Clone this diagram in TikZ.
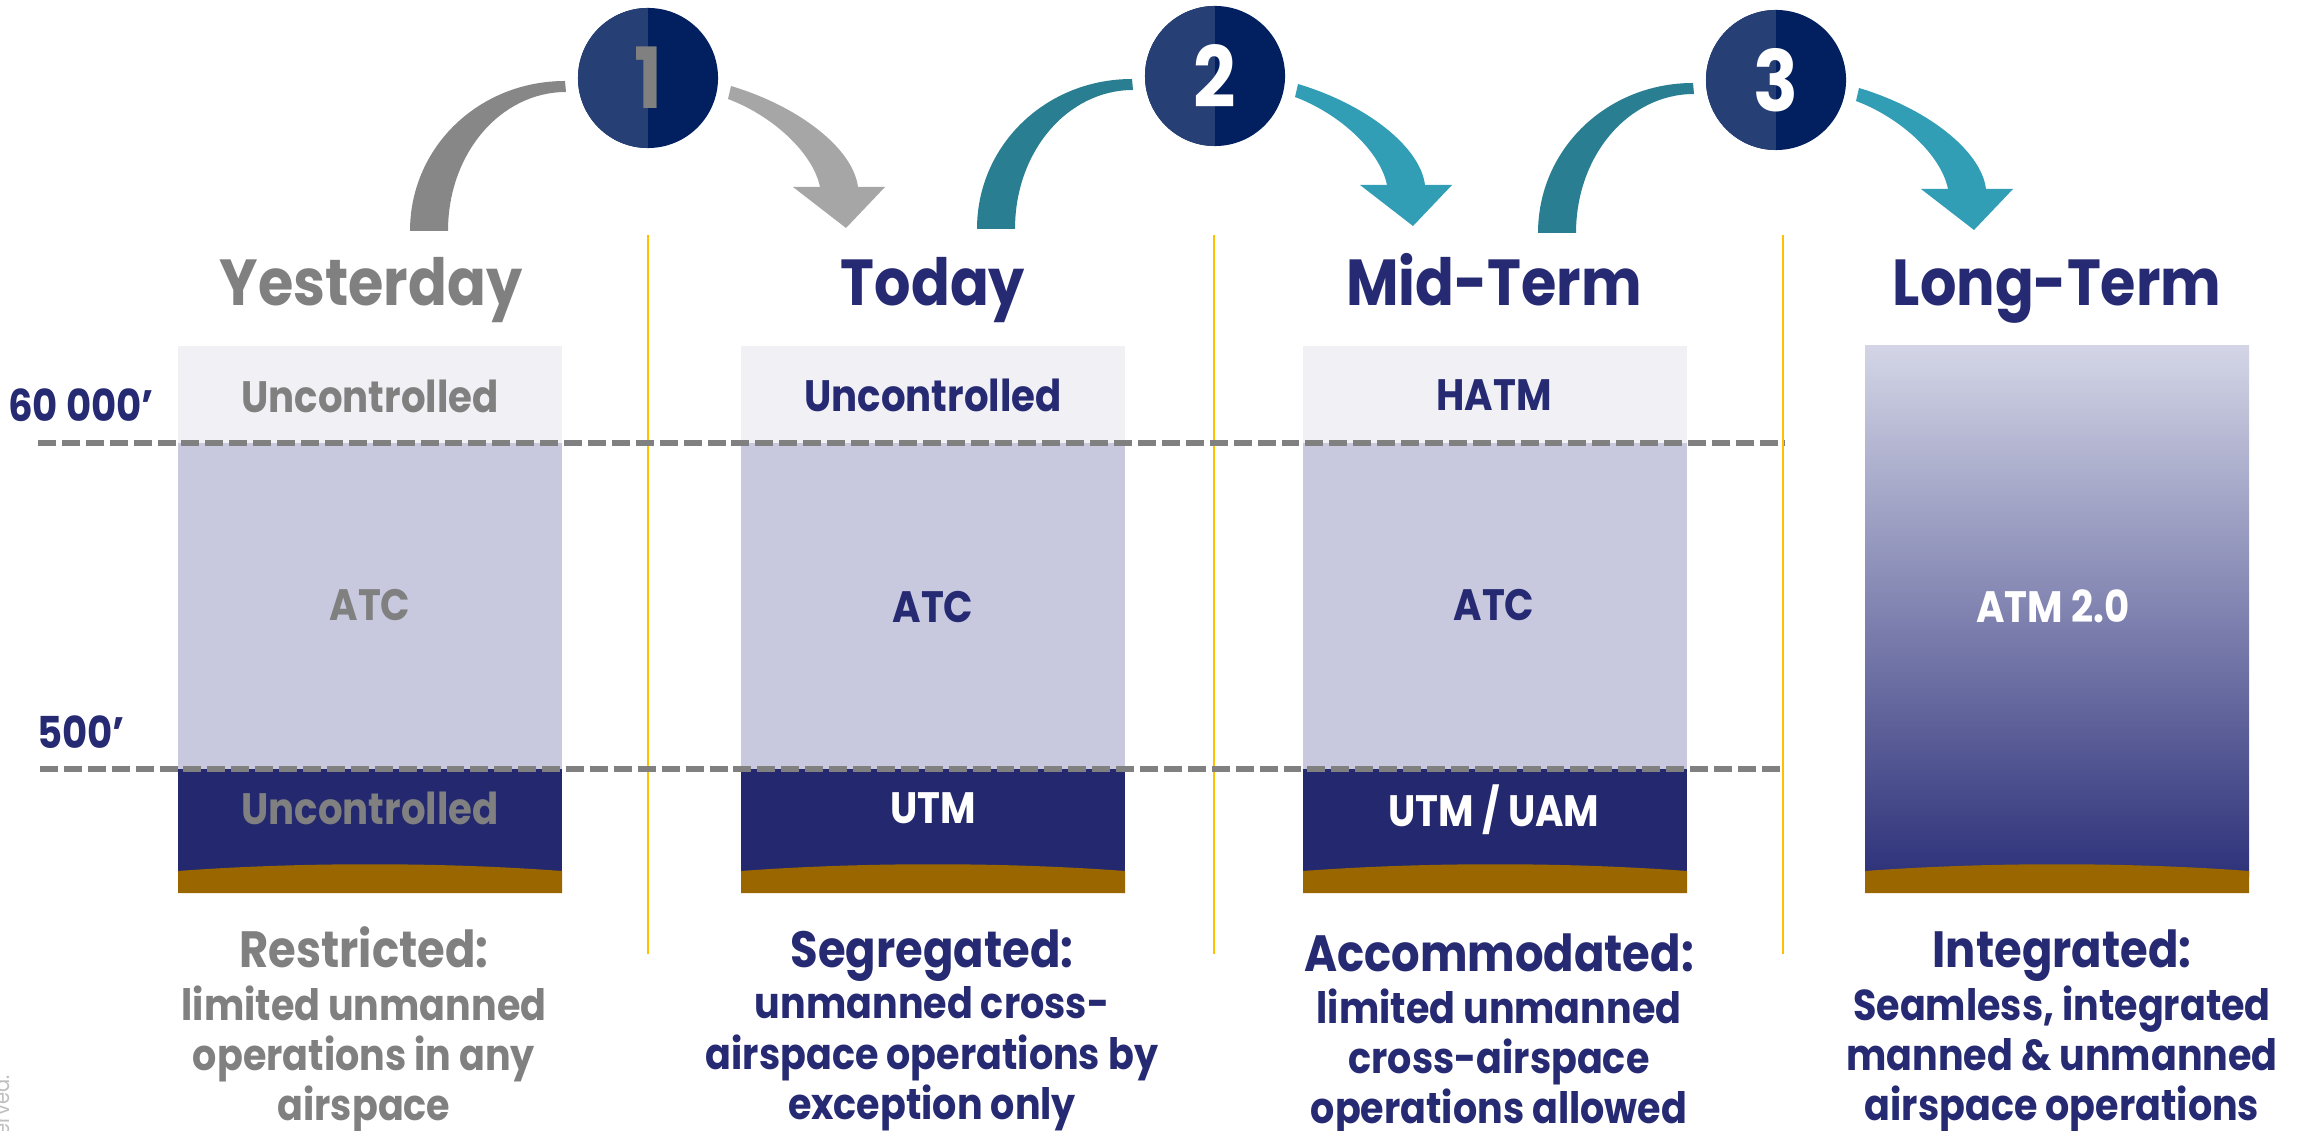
\documentclass[tikz,border=0pt]{standalone}
\usepackage{fontspec}
\setmainfont{Poppins}[FakeStretch=0.88]
\usetikzlibrary{positioning}

\definecolor{navy}{HTML}{262A72}
\definecolor{greytext}{HTML}{808080}
\definecolor{skyband}{HTML}{F0F0F5}
\definecolor{atcband}{HTML}{C8C9DE}
\definecolor{lowband}{HTML}{24296F}
\definecolor{ground}{HTML}{996600}
\definecolor{gradtop}{HTML}{D3D5E6}
\definecolor{gradmid}{HTML}{9C9EC1}
\definecolor{gradlow}{HTML}{2E327A}
\definecolor{discleft}{HTML}{264075}
\definecolor{discright}{HTML}{02205F}
\definecolor{tailgrey}{HTML}{878787}
\definecolor{headgrey}{HTML}{A6A6A6}
\definecolor{tailteal}{HTML}{297F91}
\definecolor{headteal}{HTML}{329EB6}
\definecolor{divider}{HTML}{FFC000}
\definecolor{notegrey}{HTML}{BFBFBF}

\tikzset{
    stepdisc/.style={circle, minimum size=1.4cm, inner sep=0pt, fill=discright,
            path picture={\fill[discleft] (path picture bounding box.north west) rectangle (path picture bounding box.south);},
            font=\fontsize{24}{24}\selectfont\bfseries},
    phase/.style={anchor=base, font=\fontsize{18.5}{20}\selectfont\bfseries},
    band/.style={anchor=base, font=\fontsize{12.5}{13}\selectfont\bfseries},
    verdict/.style={anchor=base, font=\fontsize{14.5}{15}\selectfont\bfseries},
    detail/.style={align=center, font=\fontsize{12.3}{14.3}\selectfont\bfseries},
    level/.style={draw=greytext, line width=1.6pt, dash pattern=on 5.1pt off 1.7pt},
    divline/.style={draw=divider, line width=0.7pt},
}

\begin{document}
\begin{tikzpicture}[x=0.01cm, y=-0.01cm]
    \useasboundingbox (0,0) rectangle (2313,1131);

    % dividers between the phases
    \foreach \x in {648,1214,1783}
        \draw[divline] (\x,235) -- (\x,954);

    % airspace columns
    \foreach \x in {178,741,1303} {
            \fill[skyband] (\x,346) rectangle (\x+384,443);
            \fill[atcband] (\x,443) rectangle (\x+384,769);
            \fill[lowband] (\x,769) rectangle (\x+384,876);
        }
    \shade[top color=gradtop, middle color=gradmid, bottom color=gradlow] (1865,346) rectangle (2249,876);
    \foreach \x in {178,741,1303,1865}
        \fill[ground] (\x,871) .. controls (\x+120,862) and (\x+264,862) .. (\x+384,871) -- (\x+384,893) -- (\x,893) -- cycle;

    % altitude levels
    \draw[level] (38,443) -- (1785,443);
    \draw[level] (40,769) -- (1785,769);
    \node[band, text=navy] (alt-high) at (81,422) {60 000’};
    \node[band, text=navy] (alt-low) at (81,748) {500’};

    \node[band, text=greytext] (sky1) at (370,413) {Uncontrolled};
    \node[band, text=greytext] (atc1) at (370,620) {ATC};
    \node[band, text=greytext] (low1) at (370,824) {Uncontrolled};
    \node[band, text=navy] (sky2) at (933,412) {Uncontrolled};
    \node[band, text=navy] (atc2) at (933,623) {ATC};
    \node[band, text=white] (low2) at (933,823) {UTM};
    \node[band, text=navy] (sky3) at (1494,411) {HATM};
    \node[band, text=navy] (atc3) at (1494,620) {ATC};
    \node[band, text=white] (low3) at (1494,826) {UTM / UAM};
    \node[band, text=white] (atm) at (2053,623) {ATM 2.0};

    % numbered steps with their curved arrows
    \foreach \s/\cx/\cy/\tail/\head/\digit in {1/648/78/tailgrey/headgrey/greytext, 2/1215/76/tailteal/headteal/white, 3/1776/80/tailteal/headteal/white} {
            \node[stepdisc, text=\digit] (step\s) at (\cx,\cy) {\s};
            \begin{scope}[shift={(step\s.center)}]
                \fill[\tail] (-238,153) .. controls (-238,69) and (-169,3) .. (-83,3) -- (-82,14)
                    .. controls (-147,14) and (-200,75) .. (-200,153) -- cycle;
                \fill[\head] (83,8) .. controls (150,28) and (205,70) .. (210,109) -- (237,109) -- (198,150)
                    -- (145,109) -- (172,109) .. controls (165,75) and (125,38) .. (80,21) -- cycle;
            \end{scope}
        }

    \node[phase, text=greytext] (yesterday) at (371,306) {Yesterday};
    \node[phase, text=navy] (today) at (933,306) {Today};
    \node[phase, text=navy] (midterm) at (1494,306) {Mid-Term};
    \node[phase, text=navy] (longterm) at (2057,306) {Long-Term};

    \node[verdict, text=greytext] (restricted) at (364,967) {Restricted:};
    \node[detail, text=greytext] (restricted-txt) at (364,1059) {limited unmanned\\operations in any\\airspace};
    \node[verdict, text=navy] (segregated) at (932,967) {Segregated:};
    \node[detail, text=navy] (segregated-txt) at (932,1059) {unmanned cross-\\airspace operations by\\exception only};
    \node[verdict, text=navy] (accommodated) at (1499,971) {Accommodated:};
    \node[detail, text=navy] (accommodated-txt) at (1499,1062) {limited unmanned\\cross-airspace\\operations allowed};
    \node[verdict, text=navy] (integrated) at (2062,967) {Integrated:};
    \node[detail, text=navy] (integrated-txt) at (2062,1059) {Seamless, integrated\\manned \& unmanned\\airspace operations};

    \node[rotate=90, anchor=base east, font=\fontsize{6.3}{7}\selectfont, text=notegrey] (rights) at (9,1063) {reserved.};
\end{tikzpicture}
\end{document}
